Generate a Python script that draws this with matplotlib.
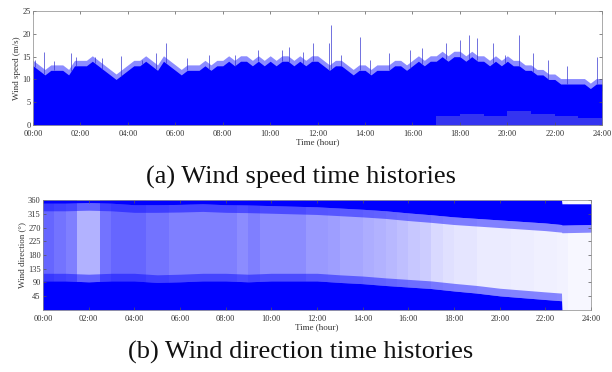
import numpy as np
import matplotlib
matplotlib.use('Agg')
import matplotlib.pyplot as plt

plt.rcParams['font.family'] = ['Liberation Serif', 'DejaVu Serif']

# --- wind speed (m/s): dense band top edge, read every 15 min (0:00 .. 24:00)
speed_top = [13, 12, 11, 12, 12, 12, 11, 13, 13, 13, 14, 13, 12, 11, 10, 11,
             12, 13, 13, 14, 13, 12, 14, 13, 12, 11, 12, 12, 12, 13, 12, 13,
             13, 14, 13, 14, 14, 13, 14, 13, 14, 13, 14, 14, 13, 14, 13, 14,
             14, 13, 12, 13, 13, 12, 11, 12, 12, 11, 12, 12, 12, 13, 13, 12,
             13, 14, 13, 14, 14, 15, 14, 15, 15, 14, 15, 14, 14, 13, 14, 13,
             14, 13, 13, 12, 12, 11, 11, 10, 10, 9, 9, 9, 9, 9, 8, 9, 9]
# hourly lower edge (gaps near zero after 17:00)
speed_low = [0, 0, 0, 0, 0, 0, 0, 0, 0, 0, 0, 0,
             0, 0, 0, 0, 0, 2, 2.5, 2, 3, 2.5, 2, 1.5]
# isolated gust peaks (hour, m/s)
peak_hour = [0.08, 0.46, 0.9, 1.6, 1.8, 2.6, 2.9, 3.7, 4.6, 5.2, 5.6, 6.5,
             7.4, 8.5, 9.5, 10.5, 10.8, 11.4, 11.8, 12.5, 12.56, 13.0, 13.8,
             14.2, 15.0, 15.9, 16.4, 17.4, 18.0, 18.4, 18.7, 19.4, 19.9, 20.5,
             21.1, 21.7, 22.5, 23.8]
peak_speed = [14.3, 16.1, 14, 15.8, 15, 15, 14.7, 15.2, 14.3, 15.8, 18, 14.7,
              15.4, 15.4, 16.5, 16.5, 17.2, 16.1, 18, 18, 22, 15.4, 19.4,
              14.3, 15.8, 16.5, 16.9, 18, 18.7, 19.8, 19, 18, 15.4, 19.8,
              15.8, 14.3, 12.9, 15]

# --- wind direction (deg): edges of the two dense bands
dir_hour = [0, 1, 2, 3, 4, 5, 6, 7, 8, 9, 10, 11, 12, 13, 14, 15, 16, 17,
            18, 19, 20, 21, 22, 22.7, 22.72, 24]
dir_low_top = [95, 95, 92, 95, 95, 90, 92, 95, 95, 92, 95, 95, 95, 90, 86,
               80, 75, 70, 62, 55, 46, 40, 34, 30, 0, 0]
dir_high_bottom = [350, 350, 352, 350, 345, 345, 346, 348, 345, 344, 342, 340,
                   338, 334, 330, 325, 318, 312, 305, 300, 295, 290, 285, 280,
                   278, 280]
dir_high_top = [360] * 24 + [348, 348]
# scatter density between the bands, per half hour
dir_mid_density = [0.6, 0.55, 0.5, 0.3, 0.3, 0.55, 0.6, 0.6, 0.6, 0.55, 0.55, 0.5,
                   0.5, 0.5, 0.5, 0.5, 0.5, 0.45, 0.5, 0.45, 0.45, 0.45, 0.45, 0.4,
                   0.4, 0.38, 0.35, 0.35, 0.32, 0.3, 0.28, 0.25, 0.22, 0.2,
                   0.15, 0.12, 0.1, 0.1, 0.08, 0.08, 0.08, 0.07, 0.07, 0.06,
                   0.06, 0.05, 0.03, 0.03]

xticks = list(range(0, 25, 2))
xticklabels = ['%02d:00' % h for h in xticks]
BLUE = '#0000ff'


def style_axes(ax):
    ax.set_xlim(0, 24)
    ax.set_xticks(xticks)
    ax.set_xticklabels(xticklabels)
    ax.tick_params(direction='in', top=True, right=True, labelsize=6,
                   length=2.5, width=0.5, colors='#555555', labelcolor='#333333', pad=1.5)
    ax.tick_params(axis='x', pad=3.5)
    for s in ax.spines.values():
        s.set_linewidth(0.5)
        s.set_color('#888888')
    ax.set_xlabel('Time (hour)', fontsize=6.5, labelpad=0.5, color='#333333')


fig = plt.figure(figsize=(6.12, 3.72), dpi=100)

# (a) wind speed
ax1 = fig.add_axes([0.054, 0.664, 0.930, 0.306])
t_top = np.arange(len(speed_top)) * 0.25
ax1.fill_between(t_top, 0, speed_top, color=BLUE, lw=0)
ax1.fill_between(t_top, np.array(speed_top) - 1.5, np.array(speed_top) + 1.2,
                 color=BLUE, alpha=0.45, lw=0)
ax1.vlines(peak_hour, np.interp(peak_hour, t_top, speed_top), peak_speed,
           color='#3030d0', lw=0.6, alpha=0.8)
low_t = np.arange(len(speed_low) + 1)
ax1.stairs(speed_low, low_t, baseline=0, fill=True, color='#3434f0', lw=0)
ax1.set_ylim(0, 25)
ax1.set_yticks(range(0, 26, 5))
ax1.set_ylabel('Wind speed (m/s)', fontsize=6.5, labelpad=1, color='#333333')
style_axes(ax1)

# (b) wind direction
ax2 = fig.add_axes([0.070, 0.167, 0.896, 0.295])
mid_t = np.arange(len(dir_mid_density) + 1) * 0.5
for i, d in enumerate(dir_mid_density):
    ax2.fill_between([mid_t[i], mid_t[i + 1]], 0, 360, color=BLUE, alpha=d, lw=0)
low = np.array(dir_low_top, dtype=float)
ax2.fill_between(dir_hour, 0, low, color=BLUE, lw=0)
ax2.fill_between(dir_hour, low, np.where(low > 0, low + 25, 0),
                 color=BLUE, alpha=0.45, lw=0)
ax2.fill_between(dir_hour, dir_high_bottom, dir_high_top, color=BLUE, lw=0)
ax2.fill_between(dir_hour, np.array(dir_high_bottom) - 25, dir_high_bottom,
                 color=BLUE, alpha=0.45, lw=0)
ax2.set_ylim(0, 360)
ax2.set_yticks(range(45, 361, 45))
ax2.set_ylabel('Wind direction (°)', fontsize=6.5, labelpad=1, color='#333333')
style_axes(ax2)

fig.text(0.492, 0.522, '(a) Wind speed time histories', ha='center', va='center',
         fontsize=19, color='#111111')
fig.text(0.492, 0.053, '(b) Wind direction time histories', ha='center', va='center',
         fontsize=19, color='#111111')

fig.savefig('out.png', dpi=100)
